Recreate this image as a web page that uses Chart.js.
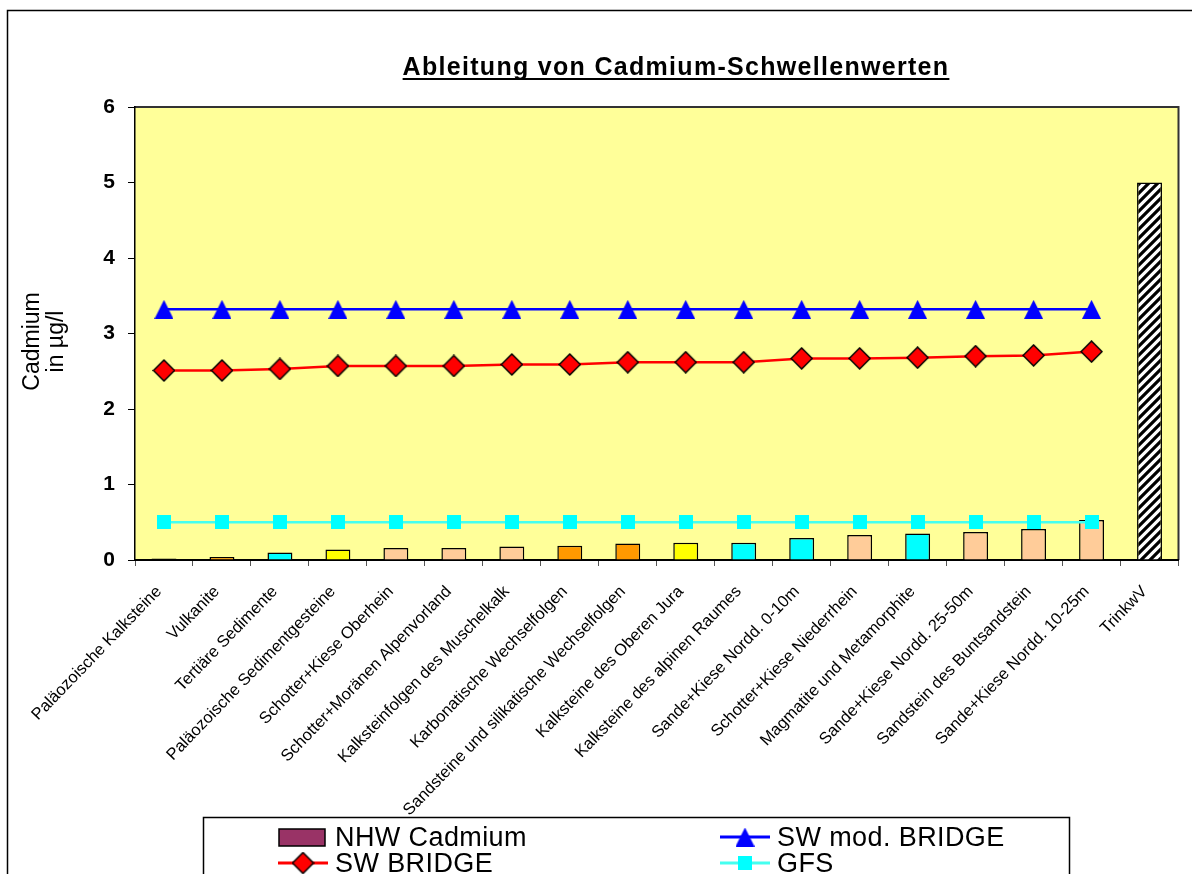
<!DOCTYPE html>
<html>
<head>
<meta charset="utf-8">
<script src="https://cdn.jsdelivr.net/npm/chart.js@4/dist/chart.umd.min.js"></script>
<style>
  html, body { margin: 0; padding: 0; background: #ffffff; }
  #wrap { width: 1192px; height: 874px; }
</style>
</head>
<body>
<div id="wrap"><canvas id="c" width="1192" height="874"></canvas></div>
<script>
// ---- data -------------------------------------------------------------
const categories = [
  'Paläozoische Kalksteine',
  'Vulkanite',
  'Tertiäre Sedimente',
  'Paläozoische Sedimentgesteine',
  'Schotter+Kiese Oberhein',
  'Schotter+Moränen Alpenvorland',
  'Kalksteinfolgen des Muschelkalk',
  'Karbonatische Wechselfolgen',
  'Sandsteine und silikatische Wechselfolgen',
  'Kalksteine des Oberen Jura',
  'Kalksteine des alpinen Raumes',
  'Sande+Kiese Nordd. 0-10m',
  'Schotter+Kiese Niederrhein',
  'Magmatite und Metamorphite',
  'Sande+Kiese Nordd. 25-50m',
  'Sandstein des Buntsandstein',
  'Sande+Kiese Nordd. 10-25m',
  'TrinkwV'
];
const nhwCadmium  = [0.02, 0.04, 0.10, 0.14, 0.16, 0.16, 0.18, 0.19, 0.22, 0.23, 0.23, 0.29, 0.33, 0.35, 0.37, 0.41, 0.53, 5];
const swBridge    = [2.51, 2.51, 2.53, 2.57, 2.57, 2.57, 2.59, 2.59, 2.62, 2.62, 2.62, 2.67, 2.67, 2.68, 2.70, 2.71, 2.76, null];
const swModBridge = [3.32, 3.32, 3.32, 3.32, 3.32, 3.32, 3.32, 3.32, 3.32, 3.32, 3.32, 3.32, 3.32, 3.32, 3.32, 3.32, 3.32, null];
const gfs         = [0.5, 0.5, 0.5, 0.5, 0.5, 0.5, 0.5, 0.5, 0.5, 0.5, 0.5, 0.5, 0.5, 0.5, 0.5, 0.5, 0.5, null];
const yTicks = [0, 1, 2, 3, 4, 5, 6];

const chartTitle = 'Ableitung von Cadmium-Schwellenwerten';
const yTitle = ['Cadmium', 'in µg/l'];

// ---- styles -----------------------------------------------------------
const FONT = '"Liberation Sans", Arial, sans-serif';
const ctx = document.getElementById('c').getContext('2d');

function markerCanvas(w, h, draw) {
  const c = document.createElement('canvas');
  c.width = w; c.height = h;
  draw(c.getContext('2d'));
  return c;
}
const triangleMark = markerCanvas(19, 19, g => {
  g.fillStyle = '#0000FF';
  g.beginPath(); g.moveTo(9.5, 0); g.lineTo(19, 19); g.lineTo(0, 19); g.closePath(); g.fill();
});
const diamondMark = markerCanvas(23, 23, g => {
  g.fillStyle = '#FF0000'; g.strokeStyle = '#000000'; g.lineWidth = 1.5;
  g.beginPath(); g.moveTo(11.5, 1); g.lineTo(22, 11.5); g.lineTo(11.5, 22); g.lineTo(1, 11.5); g.closePath();
  g.fill(); g.stroke();
});
const squareMark = markerCanvas(14, 14, g => {
  g.fillStyle = '#00FFFF'; g.fillRect(0, 0, 14, 14);
});
// wide upward diagonal hatching for the drinking-water limit bar
const hatchTile = markerCanvas(9, 9, g => {
  g.fillStyle = '#ffffff'; g.fillRect(0, 0, 9, 9);
  g.strokeStyle = '#000000'; g.lineWidth = 3.2;
  g.beginPath();
  g.moveTo(-2, 11); g.lineTo(11, -2);
  g.moveTo(-7, 7); g.lineTo(7, -7);
  g.moveTo(2, 16); g.lineTo(16, 2);
  g.stroke();
});
const hatch = ctx.createPattern(hatchTile, 'repeat');

const BLACK = '#000000', ORANGE = '#FF9900', CYAN = '#00FFFF', YELLOW = '#FFFF00', PEACH = '#FFCC99';
const barColors = [BLACK, ORANGE, CYAN, YELLOW, PEACH, PEACH, PEACH, ORANGE, ORANGE,
                   YELLOW, CYAN, CYAN, PEACH, CYAN, PEACH, PEACH, PEACH, hatch];

// ---- decorations: frame, plot background, titles, legend -----------------
const frame = {
  id: 'frame',
  beforeDraw(chart) {
    const g = chart.ctx, a = chart.chartArea;
    g.save();
    g.fillStyle = '#ffffff';
    g.fillRect(0, 0, chart.width, chart.height);
    g.strokeStyle = '#000000'; g.lineWidth = 1.5;
    g.strokeRect(7.5, 10.5, 1300, 1000);
    g.fillStyle = '#FFFF99';
    g.fillRect(a.left, a.top, a.right - a.left, a.bottom - a.top);
    g.strokeStyle = '#333333'; g.lineWidth = 2;
    g.beginPath();
    g.moveTo(a.left, a.top); g.lineTo(a.right, a.top); g.lineTo(a.right, a.bottom);
    g.stroke();
    g.restore();
  },
  afterDraw(chart) {
    const g = chart.ctx, a = chart.chartArea;
    g.save();
    // chart title, bold and underlined
    g.font = 'bold 25px ' + FONT;
    g.fillStyle = '#000000';
    g.textAlign = 'left'; g.textBaseline = 'alphabetic';
    g.letterSpacing = '1.3px';
    const w = g.measureText(chartTitle).width;
    const tx = 676 - w / 2;
    g.fillText(chartTitle, tx, 75);
    g.fillRect(tx, 78, w, 2);
    g.letterSpacing = '0px';

    // value axis title, two rotated lines
    g.font = '23px ' + FONT;
    g.textAlign = 'center'; g.textBaseline = 'middle';
    yTitle.forEach((line, i) => {
      g.save();
      g.translate(33 + i * 24, (a.top + a.bottom) / 2 + 8);
      g.rotate(-Math.PI / 2);
      g.fillText(line, 0, 0);
      g.restore();
    });

    // legend box
    g.textAlign = 'left'; g.textBaseline = 'alphabetic';
    g.strokeStyle = '#000000'; g.lineWidth = 1.5;
    g.strokeRect(203.5, 817.5, 866, 100);
    const ds = chart.data.datasets;
    const byLabel = l => ds.find(d => d.label === l);
    const items = [
      { d: byLabel('NHW Cadmium'),    x: 278, y: 846, kind: 'box' },
      { d: byLabel('SW mod. BRIDGE'), x: 720, y: 846, kind: 'line' },
      { d: byLabel('SW BRIDGE'),      x: 278, y: 872, kind: 'line' },
      { d: byLabel('GFS'),            x: 720, y: 872, kind: 'line' }
    ];
    g.font = '27px ' + FONT;
    g.letterSpacing = '0.4px';
    items.forEach(it => {
      const cy = it.y - 9;
      if (it.kind === 'box') {
        g.fillStyle = '#993366';
        g.fillRect(it.x + 1, cy - 8, 46, 17);
        g.strokeStyle = '#000000'; g.lineWidth = 1.5;
        g.strokeRect(it.x + 1, cy - 8, 46, 17);
      } else {
        g.strokeStyle = it.d.borderColor; g.lineWidth = 3;
        g.beginPath(); g.moveTo(it.x, cy); g.lineTo(it.x + 50, cy); g.stroke();
        const m = it.d.pointStyle;
        g.drawImage(m, it.x + 25 - m.width / 2, cy - m.height / 2);
      }
      g.fillStyle = '#000000';
      g.fillText(it.d.label, it.x + 57, it.y);
    });
    g.restore();
  }
};

// ---- chart ------------------------------------------------------------
new Chart(ctx, {
  type: 'bar',
  data: {
    labels: categories,
    datasets: [
      {
        type: 'line', label: 'SW mod. BRIDGE', data: swModBridge,
        borderColor: '#0000FF', borderWidth: 2.5, pointStyle: triangleMark,
        pointRadius: 10, pointHoverRadius: 10, tension: 0, fill: false, order: 1
      },
      {
        type: 'line', label: 'SW BRIDGE', data: swBridge,
        borderColor: '#FF0000', borderWidth: 2.5, pointStyle: diamondMark,
        pointRadius: 11, pointHoverRadius: 11, tension: 0, fill: false, order: 2
      },
      {
        type: 'line', label: 'GFS', data: gfs,
        borderColor: '#44FFF0', borderWidth: 2.5, pointStyle: squareMark,
        pointRadius: 7, pointHoverRadius: 7, tension: 0, fill: false, order: 3
      },
      {
        type: 'bar', label: 'NHW Cadmium', data: nhwCadmium,
        backgroundColor: barColors, borderColor: '#000000', borderWidth: 1.5,
        barPercentage: 0.43, categoryPercentage: 1, order: 10
      }
    ]
  },
  options: {
    responsive: false,
    animation: false,
    events: [],
    layout: { padding: { left: 0, right: 9, top: 107, bottom: 0 } },
    plugins: { legend: { display: false }, tooltip: { enabled: false }, title: { display: false } },
    scales: {
      x: {
        offset: true,
        grid: { offset: true, drawOnChartArea: false, tickLength: 6, color: '#555555', lineWidth: 1 },
        border: { color: '#000000', width: 2 },
        ticks: {
          autoSkip: false, minRotation: 46, maxRotation: 46, padding: 16, labelOffset: -5,
          color: '#000000', font: { family: FONT, size: 16.5 }
        },
        afterFit: s => { s.height = 314; }
      },
      y: {
        min: 0, max: 6,
        afterBuildTicks: s => { s.ticks = yTicks.map(v => ({ value: v })); },
        grid: { drawOnChartArea: false, tickLength: 7, color: '#000000', lineWidth: 1 },
        border: { color: '#000000', width: 1.5 },
        ticks: { padding: 13, color: '#000000', font: { family: FONT, size: 21, weight: 'bold' } },
        afterFit: s => { s.width = 135; }
      }
    }
  },
  plugins: [frame]
});
</script>
</body>
</html>
